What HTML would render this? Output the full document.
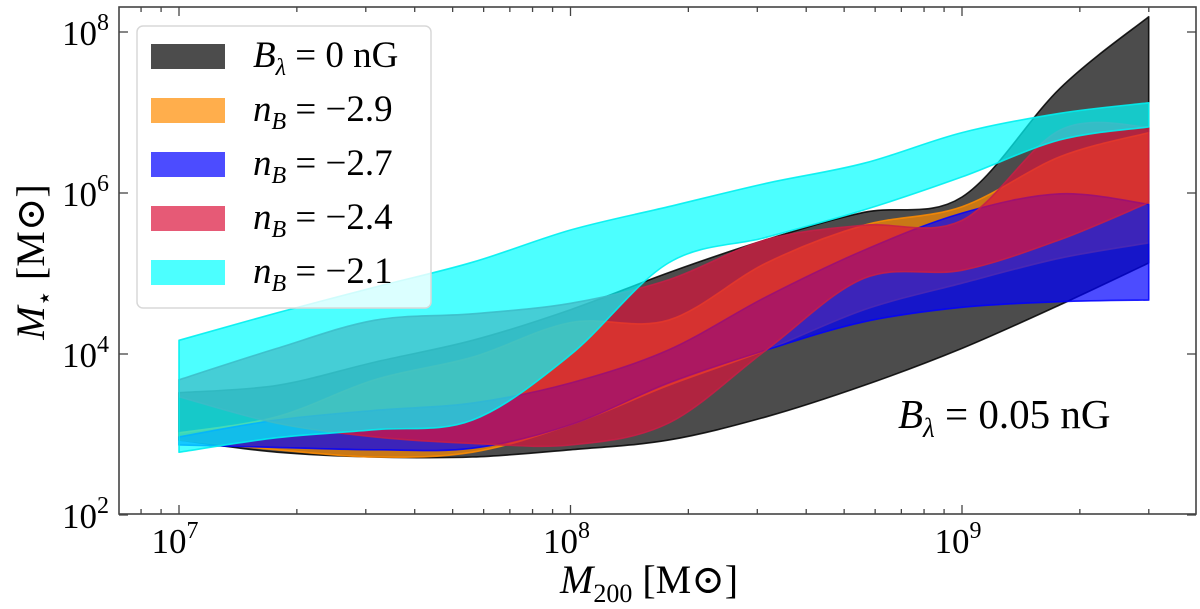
<!DOCTYPE html>
<html><head><meta charset="utf-8"><style>
html,body{margin:0;padding:0;background:#fff;}
svg{display:block;font-family:"Liberation Serif","DejaVu Serif",serif;}
</style></head><body>
<svg id="chart" width="1200" height="609" viewBox="0 0 1200 609">
<g id="bands"></g>
<g id="axes"></g>
<g>
  <rect x="137" y="26" width="294" height="282" rx="6" fill="rgba(255,255,255,0.8)" stroke="#d8d8d8" stroke-width="1.5"/>
  <rect x="151" y="44" width="74" height="25" fill="rgba(0,0,0,0.7)"/>
  <rect x="151" y="98" width="74" height="25" fill="rgba(255,140,0,0.7)"/>
  <rect x="151" y="152" width="74" height="25" fill="rgba(0,0,255,0.7)"/>
  <rect x="151" y="206" width="74" height="25" fill="rgba(220,20,60,0.7)"/>
  <rect x="151" y="260" width="74" height="25" fill="rgba(0,255,255,0.7)"/>
  <text x="253" y="67" font-size="37"><tspan font-style="italic">B</tspan><tspan font-style="italic" font-size="24" dy="8">λ</tspan><tspan dy="-8"> = 0 nG</tspan></text>
  <text x="253" y="121" font-size="37"><tspan font-style="italic">n</tspan><tspan font-style="italic" font-size="24" dy="8">B</tspan><tspan dy="-8"> = −2.9</tspan></text>
  <text x="253" y="175" font-size="37"><tspan font-style="italic">n</tspan><tspan font-style="italic" font-size="24" dy="8">B</tspan><tspan dy="-8"> = −2.7</tspan></text>
  <text x="253" y="229" font-size="37"><tspan font-style="italic">n</tspan><tspan font-style="italic" font-size="24" dy="8">B</tspan><tspan dy="-8"> = −2.4</tspan></text>
  <text x="253" y="283" font-size="37"><tspan font-style="italic">n</tspan><tspan font-style="italic" font-size="24" dy="8">B</tspan><tspan dy="-8"> = −2.1</tspan></text>
</g>
<text x="898" y="428" font-size="41"><tspan font-style="italic">B</tspan><tspan font-style="italic" font-size="27" dy="9">λ</tspan><tspan dy="-9"> = 0.05 nG</tspan></text>
<text x="560" y="593" font-size="40"><tspan font-style="italic">M</tspan><tspan font-size="26" dy="9">200</tspan><tspan dy="-9"> [M⊙]</tspan></text>
<text transform="translate(44,262) rotate(-90)" text-anchor="middle" font-size="40"><tspan font-style="italic">M</tspan><tspan font-size="26" dy="9">⋆</tspan><tspan dy="-9"> [M⊙]</tspan></text>
</svg>
<script>
const logM200 = [7, 7.25, 7.5, 7.75, 8, 8.25, 8.5, 8.75, 9, 9.25, 9.477];
const b0Upper  = [3.52, 3.61, 3.90, 4.17, 4.55, 5.01, 5.42, 5.76, 5.95, 7.30, 8.19];
const b0Lower  = [2.93, 2.78, 2.72, 2.72, 2.81, 2.93, 3.22, 3.61, 4.07, 4.61, 5.13];
const n29Upper = [3.02, 3.22, 3.68, 3.96, 4.39, 4.42, 5.13, 5.60, 5.83, 6.45, 6.75];
const n29Lower = [2.93, 2.81, 2.72, 2.78, 3.12, 3.61, 4.05, 4.55, 4.88, 5.19, 5.38];
const n27Upper = [2.97, 3.18, 3.30, 3.39, 3.64, 4.05, 4.71, 5.29, 5.75, 5.99, 5.86];
const n27Lower = [2.87, 2.84, 2.81, 2.83, 3.12, 3.64, 4.05, 4.40, 4.58, 4.65, 4.67];
const n24Upper = [3.68, 4.07, 4.42, 4.50, 4.63, 4.92, 5.42, 5.60, 5.66, 6.78, 6.82];
const n24Lower = [3.47, 3.14, 2.97, 2.89, 2.87, 3.14, 4.05, 4.94, 5.04, 5.42, 5.88];
const n21Upper = [4.17, 4.51, 4.83, 5.14, 5.54, 5.83, 6.12, 6.37, 6.75, 6.99, 7.12];
const n21Lower = [2.78, 2.96, 3.06, 3.18, 3.99, 5.13, 5.45, 5.79, 6.20, 6.66, 6.82];
const xTickLabels = ["7", "8", "9"];
const yTickLabels = ["2", "4", "6", "8"];

const NS = "http://www.w3.org/2000/svg";
const X0 = 119, X1 = 1196, Y0 = 7, Y1 = 514;
function xs(lx){ return 179 + (lx - 7) * 391.5; }
function ys(ly){ return 515 - (ly - 2) * 80.5; }

function spline(pts){
  let d = "";
  for (let i = 0; i < pts.length - 1; i++){
    const p0 = pts[Math.max(i-1,0)], p1 = pts[i], p2 = pts[i+1], p3 = pts[Math.min(i+2,pts.length-1)];
    const c1 = [p1[0] + (p2[0]-p0[0])/6, p1[1] + (p2[1]-p0[1])/6];
    const c2 = [p2[0] - (p3[0]-p1[0])/6, p2[1] - (p3[1]-p1[1])/6];
    d += " C" + c1[0].toFixed(1) + "," + c1[1].toFixed(1) + " " + c2[0].toFixed(1) + "," + c2[1].toFixed(1) + " " + p2[0].toFixed(1) + "," + p2[1].toFixed(1);
  }
  return d;
}
const bands = [
  {name:"band-b0", up:b0Upper, lo:b0Lower, fill:"rgba(0,0,0,0.7)", line:"rgba(0,0,0,0.85)"},
  {name:"band-n29", up:n29Upper, lo:n29Lower, fill:"rgba(255,140,0,0.7)", line:"rgba(255,140,0,0.85)"},
  {name:"band-n27", up:n27Upper, lo:n27Lower, fill:"rgba(0,0,255,0.7)", line:"rgba(0,0,255,0.85)"},
  {name:"band-n24", up:n24Upper, lo:n24Lower, fill:"rgba(220,20,60,0.7)", line:"rgba(200,30,70,0.85)"},
  {name:"band-n21", up:n21Upper, lo:n21Lower, fill:"rgba(0,255,255,0.7)", line:"rgba(0,240,240,0.9)"}
];
const bg = document.getElementById("bands");
bands.forEach(b => {
  const up = logM200.map((x,i)=>[xs(x), ys(b.up[i])]);
  const lo = logM200.map((x,i)=>[xs(x), ys(b.lo[i])]).reverse();
  const d = "M" + up[0][0] + "," + up[0][1] + spline(up) + " L" + lo[0][0] + "," + lo[0][1] + spline(lo) + " Z";
  const p = document.createElementNS(NS, "path");
  p.setAttribute("d", d);
  p.setAttribute("fill", b.fill);
  p.setAttribute("stroke", b.line);
  p.setAttribute("stroke-width", "1.6");
  p.setAttribute("stroke-linejoin", "round");
  
  
  bg.appendChild(p);
});

const ax = document.getElementById("axes");
function line(x1,y1,x2,y2,w){
  const l = document.createElementNS(NS,"line");
  l.setAttribute("x1",x1); l.setAttribute("y1",y1); l.setAttribute("x2",x2); l.setAttribute("y2",y2);
  l.setAttribute("stroke","#444"); l.setAttribute("stroke-width",w||1.3);
  
  
  ax.appendChild(l);
}
const frame = document.createElementNS(NS,"rect");
frame.setAttribute("x",X0); frame.setAttribute("y",Y0); frame.setAttribute("width",X1-X0); frame.setAttribute("height",Y1-Y0);
frame.setAttribute("fill","none"); frame.setAttribute("stroke","#444"); frame.setAttribute("stroke-width","1.6");


ax.appendChild(frame);
for (let dec = 6; dec <= 9; dec++){
  for (let k = 1; k <= 9; k++){
    const px = xs(dec + Math.log10(k));
    if (px <= X0+1 || px >= X1-1) continue;
    const len = k === 1 ? 9 : 5;
    line(px, Y1, px, Y1-len); line(px, Y0, px, Y0+len);
  }
}
xTickLabels.forEach(e => {
  const px = xs(+e);
  const t = document.createElementNS(NS,"text");
  t.setAttribute("x", px - 4); t.setAttribute("y", 553);
  t.setAttribute("text-anchor","middle"); t.setAttribute("font-size","35");
  t.innerHTML = '10<tspan font-size="24" dy="-15">' + e + '</tspan>';
  
  
  ax.appendChild(t);
});
yTickLabels.forEach(e => {
  const py = ys(+e);
  line(X0, py, X0+9, py); line(X1, py, X1-9, py);
  const t = document.createElementNS(NS,"text");
  t.setAttribute("x", 109); t.setAttribute("y", py + 13);
  t.setAttribute("text-anchor","end"); t.setAttribute("font-size","35");
  t.innerHTML = '10<tspan font-size="24" dy="-15">' + e + '</tspan>';
  
  
  ax.appendChild(t);
});
</script>
</body></html>
